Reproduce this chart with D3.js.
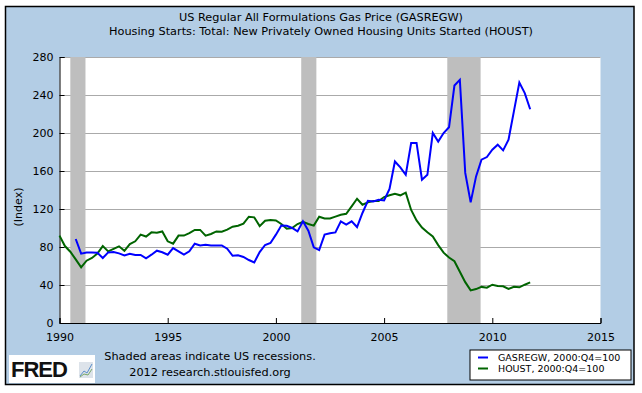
<!DOCTYPE html>
<html>
<head>
<meta charset="utf-8">
<script src="https://cdn.jsdelivr.net/npm/d3@7"></script>
<style>
  body { margin: 0; background: #fff; }
  svg { display: block; font-family: "DejaVu Sans", Verdana, sans-serif; }
</style>
</head>
<body>
<div id="chart"></div>
<script>

// quarterly values, index 2000:Q4 = 100
var houstStart = 1990;      // 1990 Q1
var houstValues = [
    92, 81, 75, 67,
    58.5, 65.6, 68.5, 73,
    81, 75.4, 78, 80.7,
    76, 83, 86, 93,
    91, 95.4, 95, 96.4,
    86, 83.5, 92, 92,
    94.7, 98, 98, 92,
    93.7, 96.4, 96, 98.2,
    101.4, 102.4, 104.5, 111.9,
    111.2, 102, 107.7, 108.4,
    108, 104.2, 99.2, 100,
    104.2, 106.6, 104.2, 102.5,
    111.9, 110, 110, 112,
    114, 115, 122.8, 130.8,
    124.5, 127, 128.4, 128.4,
    132.6, 134.4, 136, 134.4,
    137.2, 119, 108, 100.5,
    95.5, 91, 82, 74,
    69, 65, 54, 43,
    34.3, 35.7, 38, 37.2,
    40.3, 39, 38.6, 35.8,
    38.2, 37.6, 40.3, 42.8
];

var gasStart = 1990.75;     // 1990 Q4
var gasValues = [
    88.4,
    73, 74.3, 74.3, 74,
    68.4, 74.3, 74.7, 73.3,
    71.2, 72.9, 71.6, 71.6,
    68, 71.9, 76.1, 74.5,
    71.9, 78.9, 75.4, 71.9,
    75.4, 83.5, 81.7, 82.4,
    81.7, 81.7, 81.7, 78.2,
    70.8, 71.2, 69.5, 66.3,
    63.8, 74.7, 82.1, 84.2,
    93, 102.7, 102.4, 100,
    96.4, 107, 97.2, 79.6,
    76.8, 93, 94.4, 95.4,
    107, 103.5, 107, 101,
    115.8, 128.7, 128, 129.8,
    129, 141, 170, 163.8,
    156, 189.5, 189.5, 150.8,
    156, 200, 191, 200,
    206, 250, 256, 158,
    127, 154.3, 172, 174.7,
    182.4, 187.7, 181.7, 193,
    223, 253, 242, 225
];

var recessions = [[1990.5, 1991.2], [2001.17, 2001.87], [2007.92, 2009.46]];
var xTicks = [1990, 1995, 2000, 2005, 2010, 2015];
var yTicks = [0, 40, 80, 120, 160, 200, 240, 280];

var titleLines = [
    "US Regular All Formulations Gas Price (GASREGW)",
    "Housing Starts: Total: New Privately Owned Housing Units Started (HOUST)"
];
var legendLabels = ["GASREGW, 2000:Q4=100", "HOUST, 2000:Q4=100"];
var seriesColors = ["#0000ff", "#006400"];

var svgWidth = 642;
var svgHeight = 393;

var margin = {
    top: 57,
    right: 41.5,
    bottom: 70,
    left: 59.5
};

var width = svgWidth - margin.left - margin.right;
var height = svgHeight - margin.top - margin.bottom;

var svg = d3.select("#chart")
    .append("svg")
    .attr("width", svgWidth)
    .attr("height", svgHeight);

// outer panel
svg.append("rect")
    .attr("x", 5.5)
    .attr("y", 6.5)
    .attr("width", 628.5)
    .attr("height", 378)
    .attr("fill", "#b3cde5")
    .attr("stroke", "#000")
    .attr("stroke-width", 1.5);

svg.selectAll("text.title")
    .data(titleLines)
    .enter()
    .append("text")
    .classed("title", true)
    .attr("x", 321)
    .attr("y", (d, i) => 21 + i * 14)
    .attr("text-anchor", "middle")
    .attr("font-size", "11.3px")
    .attr("fill", "#000")
    .text(d => d);

var chartGroup = svg.append("g")
    .attr("transform", `translate(${margin.left}, ${margin.top})`);

var xScale = d3.scaleLinear()
    .domain([1990, 2015])
    .range([0, width]);

var yScale = d3.scaleLinear()
    .domain([0, 280])
    .range([height, 0]);

chartGroup.append("rect")
    .attr("width", width)
    .attr("height", height)
    .attr("fill", "#fff");

// gridlines
chartGroup.selectAll("line.grid")
    .data(yTicks.filter(d => d > 0))
    .enter()
    .append("line")
    .classed("grid", true)
    .attr("x1", 0)
    .attr("x2", width)
    .attr("y1", d => Math.round(yScale(d)) + 0.5)
    .attr("y2", d => Math.round(yScale(d)) + 0.5)
    .attr("stroke", "#aaaaaa")
    .attr("stroke-width", 1);

// recession bars
chartGroup.selectAll("rect.recession")
    .data(recessions)
    .enter()
    .append("rect")
    .classed("recession", true)
    .attr("x", d => xScale(d[0]))
    .attr("width", d => xScale(d[1]) - xScale(d[0]))
    .attr("y", 0)
    .attr("height", height)
    .attr("fill", "#bebebe");

var xAxis = d3.axisBottom(xScale)
    .tickValues(xTicks)
    .tickFormat(d3.format("d"))
    .tickSize(-5)
    .tickPadding(10);

var yAxis = d3.axisLeft(yScale)
    .tickValues(yTicks)
    .tickSize(-5)
    .tickPadding(6);

chartGroup.append("g")
    .attr("transform", `translate(0, ${height})`)
    .classed("xAxis", true)
    .call(xAxis);

chartGroup.append("g")
    .classed("yAxis", true)
    .call(yAxis);

chartGroup.selectAll(".xAxis, .yAxis")
    .attr("font-family", "DejaVu Sans, Verdana, sans-serif")
    .attr("font-size", "11px");
chartGroup.selectAll(".domain").attr("stroke", "#000");
chartGroup.selectAll(".tick line").attr("stroke", "#000");
chartGroup.selectAll(".tick text").attr("fill", "#000");

// series
var houst = houstValues.map((v, i) => ({ t: houstStart + i / 4, v: v }));
var gas = gasValues.map((v, i) => ({ t: gasStart + i / 4, v: v }));

var line = d3.line()
    .x(d => xScale(d.t))
    .y(d => yScale(d.v));

chartGroup.append("path")
    .datum(houst)
    .attr("d", line)
    .attr("fill", "none")
    .attr("stroke", seriesColors[1])
    .attr("stroke-width", 2);

chartGroup.append("path")
    .datum(gas)
    .attr("d", line)
    .attr("fill", "none")
    .attr("stroke", seriesColors[0])
    .attr("stroke-width", 2);

chartGroup.append("text")
    .attr("transform", "rotate(-90)")
    .attr("x", -150)
    .attr("y", -38)
    .attr("text-anchor", "middle")
    .attr("font-size", "11px")
    .text("(Index)");

// footer
svg.append("text")
    .attr("x", 210)
    .attr("y", 360)
    .attr("text-anchor", "middle")
    .attr("font-size", "11.3px")
    .text("Shaded areas indicate US recessions.");

svg.append("text")
    .attr("x", 210)
    .attr("y", 376)
    .attr("text-anchor", "middle")
    .attr("font-size", "11.3px")
    .text("2012 research.stlouisfed.org");

// FRED logo
var logo = svg.append("g")
    .attr("transform", "translate(9, 355)");
logo.append("rect")
    .attr("width", 86)
    .attr("height", 28)
    .attr("fill", "#fff");
logo.append("text")
    .attr("x", 2)
    .attr("y", 22)
    .attr("font-family", "Liberation Sans, Arial, sans-serif")
    .attr("font-weight", "bold")
    .attr("font-size", "22px")
    .attr("letter-spacing", "-1px")
    .attr("fill", "#111")
    .text("FRED");
logo.append("rect")
    .attr("x", 70)
    .attr("y", 7)
    .attr("width", 14)
    .attr("height", 16)
    .attr("fill", "#dde3ea");
logo.append("path")
    .attr("d", "M71,21 L75,16 L78,18 L83,9")
    .attr("fill", "none")
    .attr("stroke", "#5b8fc9")
    .attr("stroke-width", 1);
logo.append("path")
    .attr("d", "M71,22 L75,19 L79,20 L83,14")
    .attr("fill", "none")
    .attr("stroke", "#79a86a")
    .attr("stroke-width", 1);

// legend
var legend = svg.append("g")
    .attr("transform", "translate(470, 350)");
legend.append("rect")
    .attr("width", 161)
    .attr("height", 30)
    .attr("fill", "#fff")
    .attr("stroke", "#000")
    .attr("stroke-width", 1);

var legendItems = legend.selectAll("g.item")
    .data(legendLabels)
    .enter()
    .append("g")
    .classed("item", true)
    .attr("transform", (d, i) => `translate(0, ${7.5 + i * 11})`);

legendItems.append("line")
    .attr("x1", 8)
    .attr("x2", 18)
    .attr("stroke", (d, i) => seriesColors[i])
    .attr("stroke-width", 2);

legendItems.append("text")
    .attr("x", 28)
    .attr("y", 3.5)
    .attr("font-size", "9.5px")
    .text(d => d);

</script>
</body>
</html>
